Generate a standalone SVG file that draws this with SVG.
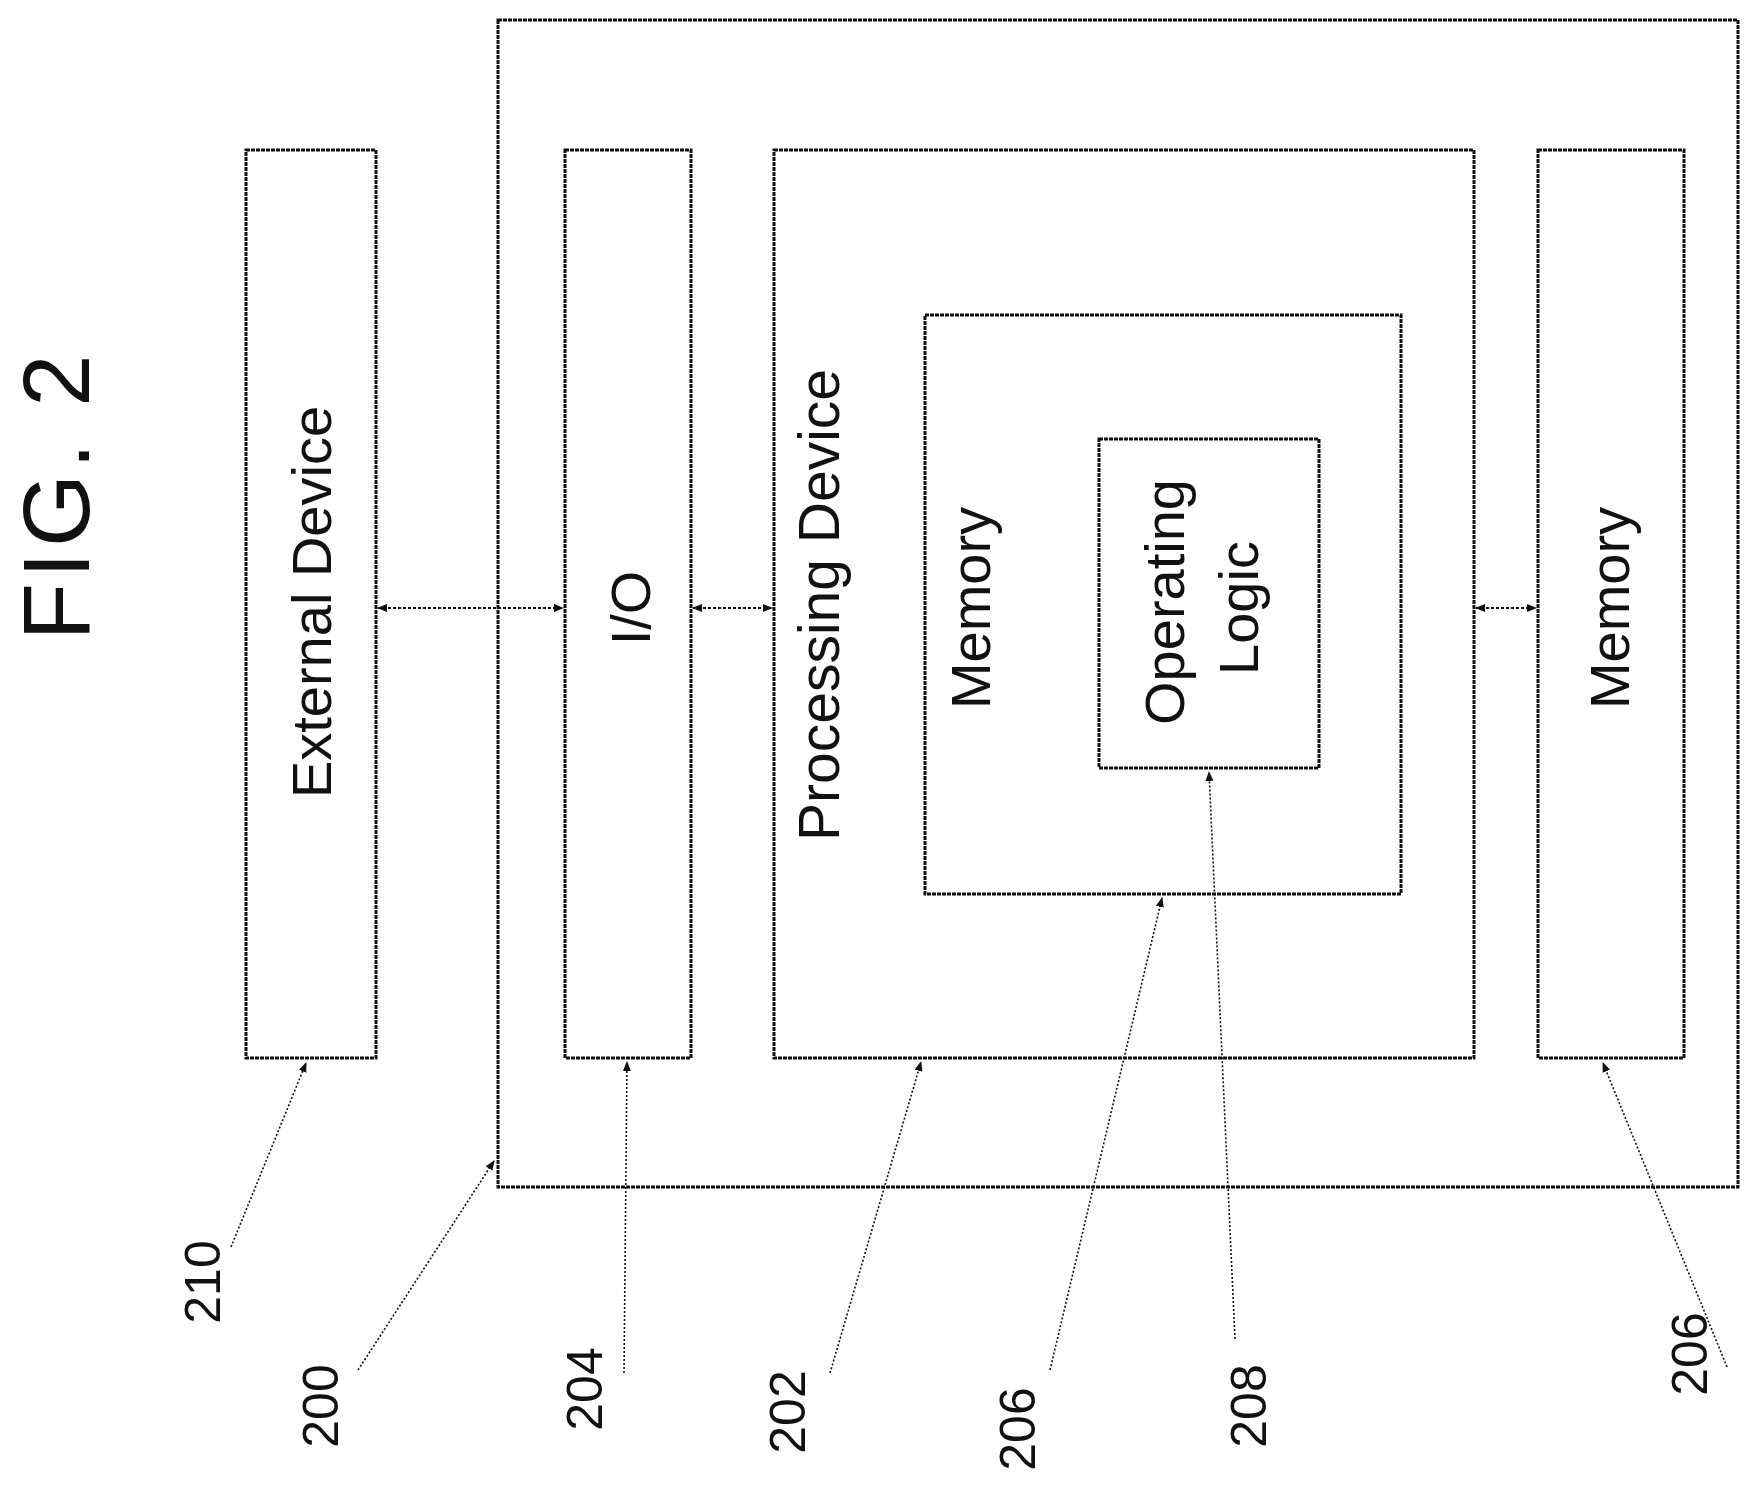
<svg xmlns="http://www.w3.org/2000/svg" width="1764" height="1508" viewBox="0 0 1764 1508">
<style>
.box{fill:none;stroke:#111;stroke-width:3;stroke-dasharray:4 1}
.t{font-family:"Liberation Sans",Arial,sans-serif;fill:#111;text-anchor:middle;dominant-baseline:central}
.c{stroke:#111;stroke-width:2;stroke-dasharray:3 2;fill:none}
.l{stroke:#111;stroke-width:1.6;stroke-dasharray:2 2;fill:none}
</style>
<defs>
<marker id="a" viewBox="0 0 10 10" refX="9" refY="5" markerWidth="10" markerHeight="10" orient="auto-start-reverse" markerUnits="userSpaceOnUse"><path d="M0,1 L10,5 L0,9 z" fill="#111"/></marker>
</defs>
<rect width="1764" height="1508" fill="#fff"/>
<text class="t" font-size="94" letter-spacing="5" transform="translate(56,495) rotate(-90)">FIG. 2</text>
<g id="n200"><rect class="box" x="498" y="20" width="1240" height="1167"/></g>
<g id="n210"><rect class="box" x="246" y="150" width="130" height="908"/><text class="t" font-size="56" transform="translate(311,602) rotate(-90)">External Device</text></g>
<g id="n204"><rect class="box" x="565" y="150" width="126" height="908"/><text class="t" font-size="56" transform="translate(630,608) rotate(-90)">I/O</text></g>
<g id="n202"><rect class="box" x="774" y="150" width="700" height="908"/><text class="t" font-size="57" transform="translate(819,605) rotate(-90)">Processing Device</text></g>
<g id="n206a"><rect class="box" x="925" y="315" width="476" height="579"/><text class="t" font-size="56" transform="translate(970,608) rotate(-90)">Memory</text></g>
<g id="n208"><rect class="box" x="1099" y="439" width="220" height="329"/><text class="t" font-size="56" transform="translate(1164,602) rotate(-90)">Operating</text><text class="t" font-size="56" transform="translate(1238,608) rotate(-90)">Logic</text></g>
<g id="n206b"><rect class="box" x="1538" y="150" width="146" height="908"/><text class="t" font-size="56" transform="translate(1609,608) rotate(-90)">Memory</text></g>
<g id="connectors">
<line class="c" x1="378" y1="608" x2="563" y2="608" marker-start="url(#a)" marker-end="url(#a)"/>
<line class="c" x1="693" y1="608" x2="772" y2="608" marker-start="url(#a)" marker-end="url(#a)"/>
<line class="c" x1="1476" y1="608" x2="1536" y2="608" marker-start="url(#a)" marker-end="url(#a)"/>
<line class="l" x1="231" y1="1247" x2="306" y2="1063" marker-end="url(#a)"/>
<line class="l" x1="358" y1="1370" x2="494" y2="1161" marker-end="url(#a)"/>
<line class="l" x1="624" y1="1373" x2="627" y2="1062" marker-end="url(#a)"/>
<line class="l" x1="830" y1="1373" x2="921" y2="1062" marker-end="url(#a)"/>
<line class="l" x1="1050" y1="1370" x2="1162" y2="898" marker-end="url(#a)"/>
<line class="l" x1="1235" y1="1339" x2="1209" y2="772" marker-end="url(#a)"/>
<line class="l" x1="1727" y1="1367" x2="1603" y2="1063" marker-end="url(#a)"/>
</g>
<g id="labels">
<text class="t" font-size="50" transform="translate(203,1282) rotate(-90)">210</text>
<text class="t" font-size="50" transform="translate(321,1406) rotate(-90)">200</text>
<text class="t" font-size="50" transform="translate(585,1389) rotate(-90)">204</text>
<text class="t" font-size="50" transform="translate(788,1412) rotate(-90)">202</text>
<text class="t" font-size="50" transform="translate(1018,1429) rotate(-90)">206</text>
<text class="t" font-size="50" transform="translate(1249,1406) rotate(-90)">208</text>
<text class="t" font-size="50" transform="translate(1690,1354) rotate(-90)">206</text>
</g>
</svg>
